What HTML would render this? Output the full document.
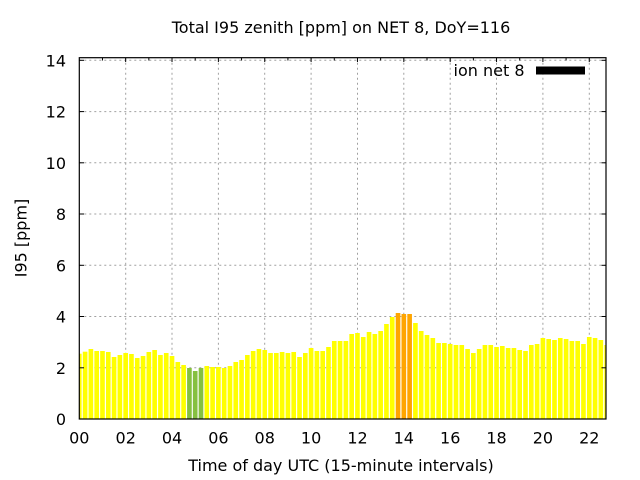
<!DOCTYPE html>
<html>
<head>
<meta charset="utf-8">
<style>
  html, body { margin: 0; padding: 0; background: #ffffff; }
  svg { display: block; }
  text { font-family: "DejaVu Sans", "Liberation Sans", sans-serif; font-size: 16px; fill: #000; }
</style>
</head>
<body>
<svg id="chart" width="640" height="480" viewBox="0 0 640 480" xmlns="http://www.w3.org/2000/svg">
  <rect x="0" y="0" width="640" height="480" fill="#ffffff"/>
  <defs>
    <clipPath id="plotclip">
      <rect x="79.3" y="57.7" width="526.7" height="361.3"/>
    </clipPath>
  </defs>

  <!-- grid -->
  <g stroke="#a0a0a0" stroke-width="1" stroke-dasharray="2,3" fill="none">
    <line x1="79.3" y1="367.8" x2="606" y2="367.8"/>
    <line x1="79.3" y1="316.5" x2="606" y2="316.5"/>
    <line x1="79.3" y1="265.3" x2="606" y2="265.3"/>
    <line x1="79.3" y1="214.0" x2="606" y2="214.0"/>
    <line x1="79.3" y1="162.8" x2="606" y2="162.8"/>
    <line x1="79.3" y1="111.6" x2="606" y2="111.6"/>
    <line x1="79.3" y1="60.3" x2="606" y2="60.3"/>
    <line x1="125.7" y1="57.7" x2="125.7" y2="419"/>
    <line x1="172.0" y1="57.7" x2="172.0" y2="419"/>
    <line x1="218.4" y1="57.7" x2="218.4" y2="419"/>
    <line x1="264.7" y1="57.7" x2="264.7" y2="419"/>
    <line x1="311.1" y1="57.7" x2="311.1" y2="419"/>
    <line x1="357.5" y1="57.7" x2="357.5" y2="419"/>
    <line x1="403.8" y1="57.7" x2="403.8" y2="419"/>
    <line x1="450.2" y1="57.7" x2="450.2" y2="419"/>
    <line x1="496.5" y1="57.7" x2="496.5" y2="419"/>
    <line x1="542.9" y1="57.7" x2="542.9" y2="419"/>
    <line x1="589.3" y1="57.7" x2="589.3" y2="419"/>
  </g>

  <!-- bars -->
  <g id="bars" clip-path="url(#plotclip)"></g>

  <!-- border -->
  <rect x="79.3" y="57.7" width="526.7" height="361.3" fill="none" stroke="#000" stroke-width="1.2"/>

  <!-- ticks -->
  <g stroke="#000" stroke-width="1" id="ticks"></g>

  <!-- y tick labels -->
  <g text-anchor="end">
    <text x="66" y="425">0</text>
    <text x="66" y="373.8">2</text>
    <text x="66" y="322.5">4</text>
    <text x="66" y="271.3">6</text>
    <text x="66" y="220">8</text>
    <text x="66" y="168.8">10</text>
    <text x="66" y="117.6">12</text>
    <text x="66" y="66.3">14</text>
  </g>

  <!-- x tick labels -->
  <g text-anchor="middle">
    <text x="79.3" y="443.5">00</text>
    <text x="125.7" y="443.5">02</text>
    <text x="172.0" y="443.5">04</text>
    <text x="218.4" y="443.5">06</text>
    <text x="264.7" y="443.5">08</text>
    <text x="311.1" y="443.5">10</text>
    <text x="357.5" y="443.5">12</text>
    <text x="403.8" y="443.5">14</text>
    <text x="450.2" y="443.5">16</text>
    <text x="496.5" y="443.5">18</text>
    <text x="542.9" y="443.5">20</text>
    <text x="589.3" y="443.5">22</text>
  </g>

  <!-- titles -->
  <text x="341" y="33" text-anchor="middle">Total I95 zenith [ppm] on NET 8, DoY=116</text>
  <text x="341" y="471" text-anchor="middle">Time of day UTC (15-minute intervals)</text>
  <text transform="translate(26.5,238) rotate(-90)" text-anchor="middle">I95 [ppm]</text>

  <!-- legend -->
  <text x="524.5" y="76" text-anchor="end">ion net 8</text>
  <rect x="536" y="66.5" width="49" height="8" fill="#000"/>
</svg>
<script>
(function(){
  var tops=[353.7,351.7,349,351,351,352,357,355,353,354,358,356,352,350,355,353,356,362,365,368,371,368,366,367,367,368,366,362,360,355,351,349,350,353,353,352,353,352,357,353,348,351,351,347,341,341,341,334,333,337,332,334,331,324,317,313,314,314,323,331,335,338,343,343,344,345,345,349,353,349,345,345,347,346,348,348,350,351,345,344,338,339,340,338,339,341,341,344,337,338,340,345];
  var ns="http://www.w3.org/2000/svg";
  var g=document.getElementById("bars");
  var x0=79.3, dx=5.795, w=4.64, base=419;
  for(var i=0;i<tops.length;i++){
    var c=x0+i*dx;
    var r=document.createElementNS(ns,"rect");
    r.setAttribute("x",(c-w/2).toFixed(2));
    r.setAttribute("y",tops[i]);
    r.setAttribute("width",w);
    r.setAttribute("height",(base-tops[i]).toFixed(2));
    var col="#ffff00";
    if(i>=19&&i<=21) col="#86c040";
    if(i>=55&&i<=57) col="#ffa500";
    r.setAttribute("fill",col);
    g.appendChild(r);
  }
  var t=document.getElementById("ticks");
  function ln(a,b,c,d){var l=document.createElementNS(ns,"line");l.setAttribute("x1",a);l.setAttribute("y1",b);l.setAttribute("x2",c);l.setAttribute("y2",d);t.appendChild(l);}
  var ys=[367.8,316.5,265.3,214.0,162.8,111.6,60.3];
  for(var k=0;k<ys.length;k++){ln(79.3,ys[k],84,ys[k]);ln(601.5,ys[k],606,ys[k]);}
  for(var h=1;h<=22;h++){var x=x0+h*23.18;ln(x,57.7,x,(h%2==0)?62:60.5);}
})();
</script>
</body>
</html>
